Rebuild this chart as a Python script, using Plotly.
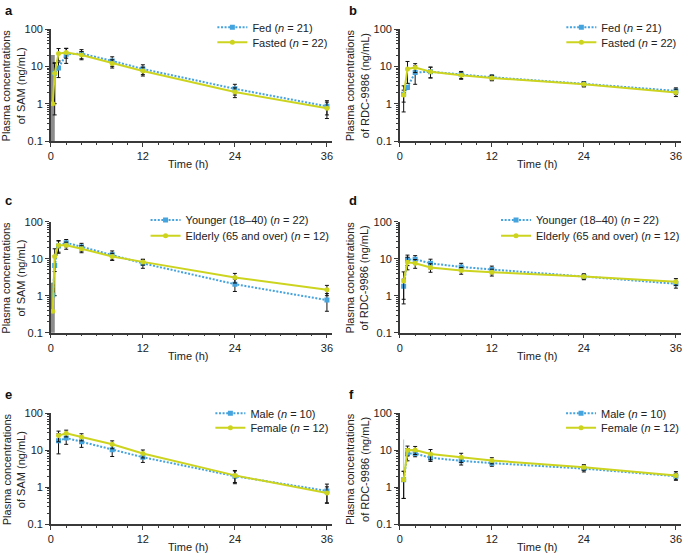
import plotly.graph_objects as go

# ---- data ----
# panel a: SAM, fed vs fasted
a_fed_t = [0.5, 1, 2, 4, 8, 12, 24, 36]
a_fed_c = [6.5, 9, 21, 22, 14, 8.5, 2.5, 0.85]
a_fed_sd = [5.5, 4, 9, 6, 4, 2.5, 0.8, 0.35]
a_fast_t = [0.25, 0.5, 1, 2, 4, 8, 12, 24, 36]
a_fast_c = [1.0, 6.5, 22, 23.5, 20, 12, 7.5, 2.05, 0.75]
a_fast_sd = [0, 6, 8, 7, 5, 3, 2, 0.6, 0.35]
a_early_t = [0.25]
a_early_c = [1.0]
a_early_sd = [19]

# panel b: RDC-9986, fed vs fasted
b_fed_t = [0.5, 1, 2, 4, 8, 12, 24, 36]
b_fed_c = [1.8, 2.75, 6.8, 7.2, 6.0, 5.1, 3.4, 2.2]
b_fed_sd = [1.2, 0.3, 3.5, 2.3, 1.3, 0.8, 0.5, 0.45]
b_fast_t = [0.5, 1, 2, 4, 8, 12, 24, 36]
b_fast_c = [1.7, 8.5, 9.3, 7.2, 5.8, 4.9, 3.3, 2.0]
b_fast_sd = [0.6, 5, 2.5, 2.3, 1.3, 0.8, 0.5, 0.45]

# panel c: SAM, younger vs elderly
c_young_t = [0.25, 0.5, 1, 2, 4, 8, 12, 24, 36]
c_young_c = [1.04, 6.5, 22, 27, 21, 12.7, 7.5, 2.05, 0.76]
c_young_sd = [0, 5.5, 8, 6, 5, 3.5, 2, 0.75, 0.38]
c_old_t = [0.25, 0.5, 1, 2, 4, 8, 12, 24, 36]
c_old_c = [0.38, 11.5, 23, 23, 18.5, 11.5, 8.2, 3.1, 1.45]
c_old_sd = [0, 7, 8, 5, 4, 2.5, 1.5, 0.9, 0.45]
c_early_t = [0.25]
c_early_c = [1.04]
c_early_sd = [1.2]

# panel d: RDC-9986, younger vs elderly
d_young_t = [0.5, 1, 2, 4, 8, 12, 24, 36]
d_young_c = [1.8, 9.5, 9.6, 7.5, 6.0, 5.1, 3.3, 2.1]
d_young_sd = [1.0, 3, 2.5, 2.2, 1.5, 1.2, 0.6, 0.5]
d_old_t = [0.5, 1, 2, 4, 8, 12, 24, 36]
d_old_c = [2.5, 8.0, 7.5, 5.8, 4.8, 4.3, 3.3, 2.4]
d_old_sd = [1.9, 3, 2, 1.5, 1, 0.9, 0.5, 0.5]

# panel e: SAM, male vs female
e_male_t = [1, 2, 4, 8, 12, 24, 36]
e_male_c = [18, 21.5, 17, 10.3, 6.5, 2.0, 0.8]
e_male_sd = [10, 7, 5, 3.5, 1.8, 0.75, 0.42]
e_fem_t = [1, 2, 4, 8, 12, 24, 36]
e_fem_c = [25, 29, 23, 14.5, 8.2, 2.1, 0.7]
e_fem_sd = [8, 6, 5, 3.5, 2, 0.75, 0.33]

# panel f: RDC-9986, male vs female
f_male_t = [0.5, 1, 2, 4, 8, 12, 24, 36]
f_male_c = [1.6, 8.2, 8.2, 6.3, 5.2, 4.5, 3.2, 2.0]
f_male_sd = [1.1, 3, 1.5, 1.3, 1.2, 0.8, 0.6, 0.4]
f_fem_t = [0.5, 1, 2, 4, 8, 12, 24, 36]
f_fem_c = [1.6, 10, 10.2, 8.0, 6.5, 5.3, 3.5, 2.1]
f_fem_sd = [1.1, 3, 2.5, 2.5, 1.8, 1, 0.6, 0.55]
f_early_t = [0.5]
f_early_c = [1.6]
f_early_up = [18]

x_ticks = [0, 12, 24, 36]
y_ticks = [0.1, 1, 10, 100]
y_ticktext = ["0.1", "1", "10", "100"]

fed_names = ["Fed (<i>n</i> = 21)", "Fasted (<i>n</i> = 22)"]
age_names = ["Younger (18\u201340) (<i>n</i> = 22)", "Elderly (65 and over) (<i>n</i> = 12)"]
sex_names = ["Male (<i>n</i> = 10)", "Female (<i>n</i> = 12)"]
letters = ["a", "b", "c", "d", "e", "f"]
y_titles = ["Plasma concentrations<br>of SAM (ng/mL)",
            "Plasma concentrations<br>of RDC-9986 (ng/mL)"]

W, H = 685, 554
BLUE = "#45a3dd"
YELLOW = "#cdd41f"
AX = "#3a3a3a"
FONT = "Liberation Sans, Arial, sans-serif"

# pixel layout
col_x = [(51, 332.5), (401, 682.5)]
row_y = [(29, 141), (221.7, 332.7), (413.3, 524.3)]
title_x = [13.5, 358.3]
letter_x = [3, 348]
letter_y = [10, 200, 394]
xtitle_y = [164, 355.7, 547]
# (text start x, first row centre y, row gap)
leg_pos = [(253, 27.3, 15), (603, 27.3, 15), (186, 220, 15.7),
           (537.5, 220, 15.7), (251, 413.3, 14.4), (602.7, 413.3, 14.4)]

fig = go.Figure()

blue_style = dict(mode="lines+markers",
                  line=dict(color=BLUE, width=2, dash="2px,1.6px"),
                  marker=dict(symbol="square", size=5, color=BLUE))
yellow_style = dict(mode="lines+markers",
                    line=dict(color=YELLOW, width=2),
                    marker=dict(symbol="circle", size=5, color=YELLOW))

def err(sd):
    return dict(type="data", array=sd, color="#111111", thickness=1, width=2)

def early_band(i, t, c, sd, color="#8c8c8c", thick=4, up_only=False):
    e = dict(type="data", array=sd, color=color, thickness=thick, width=0)
    if up_only:
        e["symmetric"] = False
        e["arrayminus"] = [0] * len(sd)
    fig.add_trace(go.Scatter(x=t, y=c, mode="markers",
                             marker=dict(size=1, color="rgba(0,0,0,0)"),
                             error_y=e, showlegend=False, hoverinfo="skip",
                             xaxis="x" if i == 0 else "x%d" % (i + 1),
                             yaxis="y" if i == 0 else "y%d" % (i + 1)))

early_band(0, a_early_t, a_early_c, a_early_sd)
early_band(2, c_early_t, c_early_c, c_early_sd)
early_band(5, f_early_t, f_early_c, f_early_up, color="#9ccfee", thick=1, up_only=True)

panels = [
    (a_fed_t, a_fed_c, a_fed_sd, a_fast_t, a_fast_c, a_fast_sd, fed_names),
    (b_fed_t, b_fed_c, b_fed_sd, b_fast_t, b_fast_c, b_fast_sd, fed_names),
    (c_young_t, c_young_c, c_young_sd, c_old_t, c_old_c, c_old_sd, age_names),
    (d_young_t, d_young_c, d_young_sd, d_old_t, d_old_c, d_old_sd, age_names),
    (e_male_t, e_male_c, e_male_sd, e_fem_t, e_fem_c, e_fem_sd, sex_names),
    (f_male_t, f_male_c, f_male_sd, f_fem_t, f_fem_c, f_fem_sd, sex_names),
]

layout = dict(width=W, height=H, margin=dict(l=0, r=0, t=0, b=0),
              paper_bgcolor="white", plot_bgcolor="white",
              font=dict(family=FONT, size=11, color="#222222"),
              showlegend=True)
annotations = []
minor_y = [k * 10 ** e for e in (-1, 0, 1) for k in range(2, 10)]

for i, (t1, c1, s1, t2, c2, s2, names) in enumerate(panels):
    r, col = i // 2, i % 2
    xa = "x" if i == 0 else "x%d" % (i + 1)
    ya = "y" if i == 0 else "y%d" % (i + 1)
    x0, x1 = col_x[col]
    ytop, ybot = row_y[r]
    layout["xaxis" if i == 0 else "xaxis%d" % (i + 1)] = dict(
        domain=[x0 / W, x1 / W], anchor=ya, range=[0, 36.6],
        tickvals=x_ticks, ticks="outside", ticklen=4, tickwidth=1.3, tickcolor=AX,
        minor=dict(dtick=2, tick0=0, ticks="outside", ticklen=2, tickcolor=AX, tickwidth=1),
        showline=True, linecolor=AX, linewidth=1.5, showgrid=False, zeroline=False,
        automargin=False, fixedrange=True)
    layout["yaxis" if i == 0 else "yaxis%d" % (i + 1)] = dict(
        domain=[1 - ybot / H, 1 - ytop / H], anchor=xa, type="log", range=[-1, 2],
        tickvals=y_ticks, ticktext=y_ticktext, ticks="outside", ticklen=4,
        tickwidth=1.3, tickcolor=AX,
        minor=dict(tickvals=minor_y, ticks="outside", ticklen=2, tickcolor=AX, tickwidth=1),
        showline=True, linecolor=AX, linewidth=1.5, showgrid=False, zeroline=False,
        automargin=False, fixedrange=True)

    lx, ly, lgap = leg_pos[i]
    for k, (t, c, s, st) in enumerate([(t1, c1, s1, blue_style), (t2, c2, s2, yellow_style)]):
        lid = 2 * i + k + 1
        lname = "legend" if lid == 1 else "legend%d" % lid
        fig.add_trace(go.Scatter(x=t, y=c, name=names[k], error_y=err(s),
                                 xaxis=xa, yaxis=ya, legend=lname, **st))
        cy = ly + k * lgap
        layout[lname] = dict(x=(lx - 40) / W, y=1 - (cy - 14.5) / H,
                             xanchor="left", yanchor="top",
                             bgcolor="rgba(0,0,0,0)", borderwidth=0,
                             font=dict(family=FONT, size=11, color="#222222"))

    annotations.append(dict(text="<b>%s</b>" % letters[i], xref="paper", yref="paper",
                            x=letter_x[col] / W, y=1 - letter_y[r] / H,
                            xanchor="left", yanchor="middle", showarrow=False,
                            font=dict(family=FONT, size=13, color="#111111")))
    annotations.append(dict(text="Time (h)", xref="paper", yref="paper",
                            x=(x0 + x1 - 5) / 2 / W, y=1 - xtitle_y[r] / H,
                            xanchor="center", yanchor="middle", showarrow=False))
    annotations.append(dict(text=y_titles[col], xref="paper", yref="paper",
                            x=title_x[col] / W, y=1 - (ytop + ybot) / 2 / H,
                            xanchor="center", yanchor="middle", textangle=-90,
                            showarrow=False))

layout["annotations"] = annotations
fig.update_layout(**layout)
fig.write_html("out.html", config={"displayModeBar": False},
               post_script="document.body.style.margin='0';document.body.style.overflow='hidden';")
